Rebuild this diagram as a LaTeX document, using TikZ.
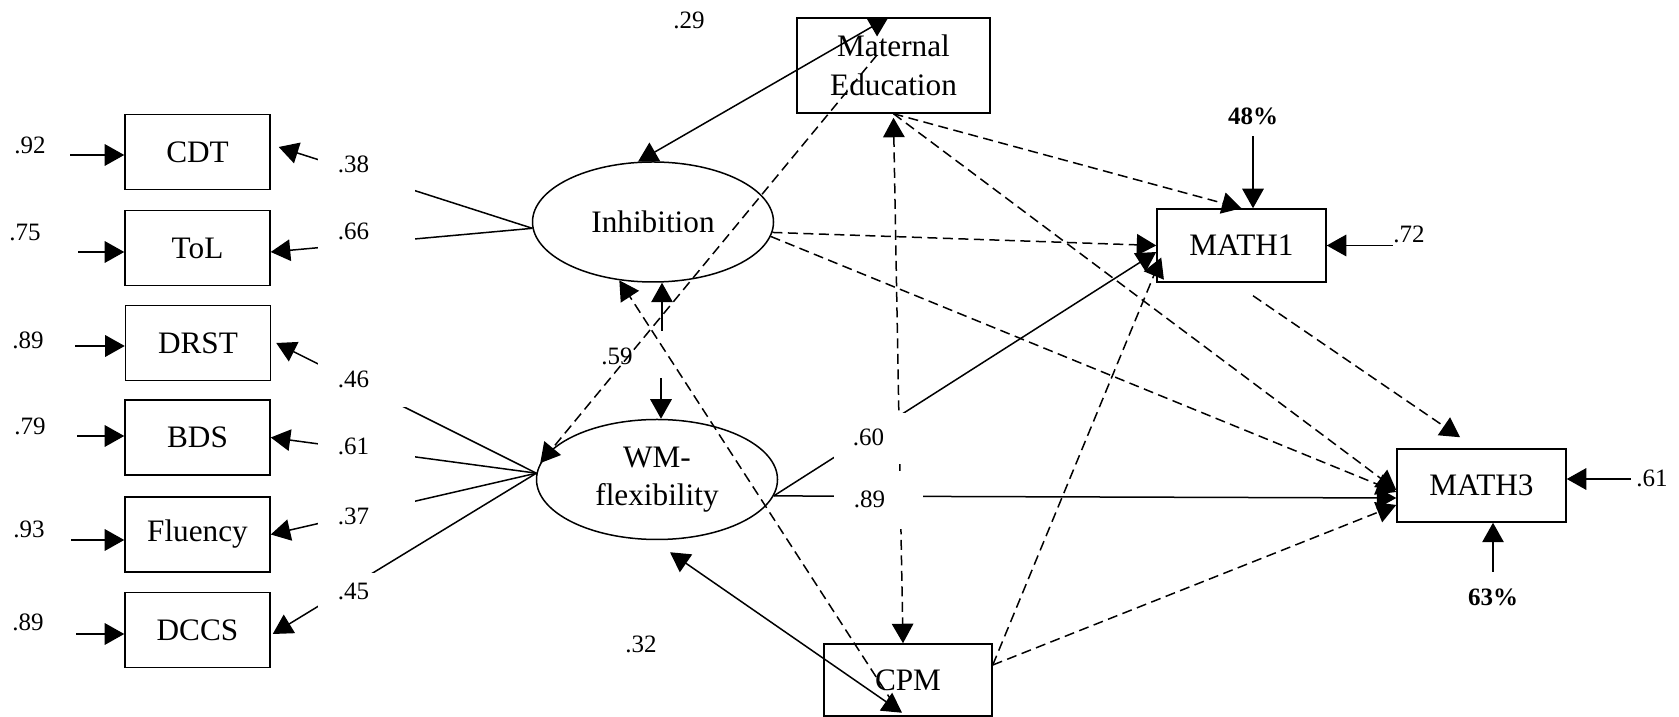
\documentclass[tikz,border=0pt]{standalone}
\usepackage{fontspec}
\setmainfont{Liberation Serif}
\usetikzlibrary{shapes.geometric, arrows.meta}

\begin{document}
\begin{tikzpicture}[
    x=0.4pt, y=-0.4pt,
    line width=0.6pt,
    >={Triangle[length=7.8pt, width=8.6pt]},
    obs/.style={rectangle, draw, minimum width=58pt, minimum height=30pt, inner sep=0pt, font=\fontsize{12.5}{15}\selectfont},
    latent/.style={ellipse, draw, minimum width=96.4pt, minimum height=48pt, inner sep=0pt, align=center, font=\fontsize{12.5}{15}\selectfont},
    num/.style={inner sep=0pt, font=\fontsize{10}{12}\selectfont},
    pct/.style={inner sep=0pt, font=\fontsize{10}{12}\selectfont\bfseries},
    nsig/.style={dash pattern=on 4pt off 2.2pt},
    gapbox/.style={fill=white, anchor=north west, inner xsep=8pt, inner ysep=0pt, align=left, text width=22.8pt, text height=10.8pt, text depth=7.6pt, font=\fontsize{10}{12}\selectfont}
]
    \useasboundingbox (0,0) rectangle (1679,717);

    % --- indicators (left) ---
    \node[obs] (cdt)  at (197.5,152)   {CDT};
    \node[obs] (tol)  at (197.5,248)   {ToL};
    \node[obs] (drst) at (198,343)     {DRST};
    \node[obs] (bds)  at (197.5,437.5) {BDS};
    \node[obs] (flu)  at (197.5,534.5) {Fluency};
    \node[obs] (dccs) at (197.5,630)   {DCCS};

    % --- latent factors ---
    \node[latent] (inh) at (653,222)   {Inhibition};
    \node[latent] (wm)  at (657,479.5) {WM-\\flexibility};

    % --- covariates and outcomes ---
    \node[obs, minimum width=77.2pt, minimum height=38pt, align=center, font=\fontsize{12.5}{15.5}\selectfont] (med) at (893.5,65.5) {Maternal\\Education};
    \node[obs, minimum width=67.2pt, minimum height=28.8pt] (cpm) at (908,680) {CPM};
    \node[obs, minimum width=67.6pt, minimum height=29.2pt] (m1) at (1241.5,245.5) {MATH1};
    \node[obs, minimum width=67.6pt, minimum height=29.2pt] (m3) at (1481.5,485.5) {MATH3};

    % --- error terms of the indicators ---
    \node[num] (e1) at (30,145) {.92};
    \node[num] (e2) at (25,232) {.75};
    \node[num] (e3) at (28,340) {.89};
    \node[num] (e4) at (30,426) {.79};
    \node[num] (e5) at (29,529) {.93};
    \node[num] (e6) at (28,622) {.89};
    \draw[<-] ([yshift=-1.2pt]cdt.west)  -- ++(-54,0);
    \draw[<-] ([yshift=-1.6pt]tol.west)  -- ++(-46,0);
    \draw[<-] ([yshift=-1.2pt]drst.west) -- ++(-50,0);
    \draw[<-] ([yshift=0.6pt]bds.west)   -- ++(-47,0);
    \draw[<-] ([yshift=-2.2pt]flu.west)  -- ++(-53,0);
    \draw[<-] ([yshift=-1.6pt]dccs.west) -- ++(-48,0);

    % --- loadings ---
    \draw[->] (inh.183) -- ([shift={(8,-5)}]cdt.east);
    \draw[->] (inh.183) -- ([yshift=-1.6pt]tol.east);
    \draw[->] (wm.177) -- ([xshift=2pt]drst.east);
    \draw[->] (wm.177) -- (bds.east);
    \draw[->] (wm.177) -- (flu.east);
    \draw[->] (wm.177) -- ([shift={(2,4)}]dccs.east);

    % text boxes of the loadings (they hide the middle of the lines)
    \node[gapbox] (l1) at (317,145) {.38};
    \node[gapbox] (l2) at (317,212) {.66};
    \node[gapbox] (l3) at (317,360) {.46};
    \node[gapbox] (l4) at (317,427) {.61};
    \node[gapbox] (l5) at (317,497) {.37};
    \node[gapbox] (l6) at (317,572) {.45};

    % --- correlations ---
    \draw[<->] (inh.104) -- ([xshift=-2pt]med.north);
    \node[num] (c29) at (689,20) {.29};
    \draw[<-] ([xshift=3.6pt]inh.south) -- ++(0,48);
    \draw[<-] ([xshift=1.6pt]wm.north) -- ++(0,-41);
    \node[num] (c59) at (617,356) {.59};
    \draw[<->] ([shift={(13,12)}]wm.south) -- ([shift={(-6,-4)}]cpm.south);
    \node[num] (c32) at (641,644) {.32};
    \draw[<->, nsig] ([yshift=-1.6pt]med.south) -- ([xshift=-2pt]cpm.north);

    % --- paths (dashed = not significant) ---
    \draw[->, nsig] ([shift={(-16.5,-10.5)}]med.center) -- (wm.172);
    \draw[->, nsig] ([shift={(-15,23)}]cpm.center) -- (inh.240);
    \draw[->, nsig] (med.south) -- (m1.north);
    \draw[->, nsig] (med.south) -- ([yshift=-1.8pt]m3.west);
    \draw[->, nsig] (inh.-5) -- (m1.west);
    \draw[->, nsig] (inh.-7) -- ([yshift=-2.6pt]m3.west);
    \draw[->] (wm.-8) -- ([yshift=-2.6pt]m1.west);
    \draw[->] (wm.-8) -- ([yshift=-5pt]m3.west);
    \draw[->, nsig] ([yshift=6pt]cpm.east) -- ([shift={(5,12)}]m1.west);
    \draw[->, nsig] ([yshift=6pt]cpm.east) -- ([yshift=-7.8pt]m3.west);
    \draw[->, nsig] ([shift={(11.5,13)}]m1.south) -- ([shift={(-21.5,-11)}]m3.north);

    \node[gapbox, inner xsep=7.6pt, text width=13.6pt, text height=13.2pt, text depth=7.2pt] (c60) at (833,412) {.60};
    \node[gapbox, text width=19.6pt, text height=14.8pt, text depth=8.4pt] (c89) at (833,470) {.89};

    % --- explained variance and residuals ---
    \node[pct] (r1) at (1253,116) {48\%};
    \draw[<-] ([xshift=4.6pt]m1.north) -- ++(0,-72);
    \node[num] (d1) at (1409,234) {.72};
    \draw[<-] (m1.east) -- ++(66,0);
    \node[num] (d3) at (1652,478) {.61};
    \draw[<-] ([yshift=2.6pt]m3.east) -- ++(64,0);
    \node[pct] (r3) at (1493,597) {63\%};
    \draw[<-] ([xshift=4.6pt]m3.south) -- ++(0,49);

\end{tikzpicture}
\end{document}
